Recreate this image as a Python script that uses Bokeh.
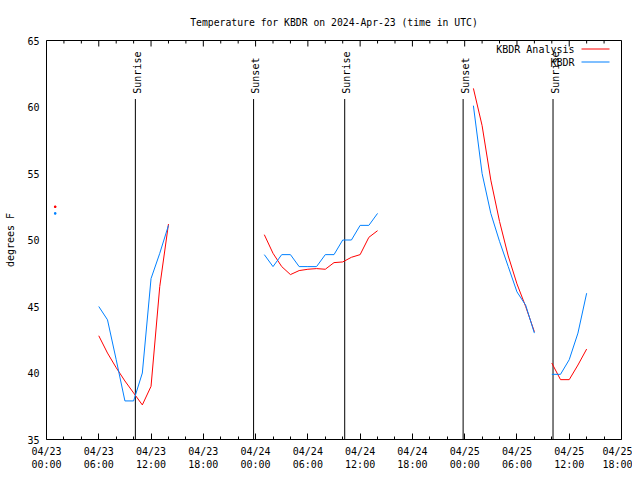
import math
import numpy as np
from bokeh.plotting import figure
from bokeh.models import Range1d, FixedTicker, Label, BoxAnnotation, ColumnDataSource
from bokeh.core.properties import value
from bokeh.embed import file_html
from bokeh.resources import INLINE

nan = float("nan")

# hours since 2024-04-23 00:00 UTC (NaN entries mark gaps in the record)
hours = [6, 7, 8, 9, 10, 11, 12, 13, 14, 15,
         25, 26, 27, 28, 29, 30, 31, 32, 33, 34, 35, 36, 37, 38, 39,
         49, 50, 51, 52, 53, 54, 55, 56, 57,
         58, 59, 60, 61, 62]
analysis_temps = [42.8, 41.5, 40.4, 39.4, 38.5, 37.6, 39.0, 46.5, 51.2, nan,
                  50.4, 49.0, 48.0, 47.4, 47.7, 47.8, 47.85, 47.8, 48.3, 48.35, 48.7, 48.9, 50.2, 50.7, nan,
                  61.4, 58.6, 54.5, 51.4, 48.8, 46.7, 45.0, 43.1, nan,
                  40.75, 39.5, 39.5, 40.6, 41.8]
obs_temps = [45.0, 44.0, 41.0, 37.9, 37.9, 40.0, 47.1, 49.0, 51.1, nan,
             48.9, 48.0, 48.9, 48.9, 48.0, 48.0, 48.0, 48.9, 48.9, 50.0, 50.0, 51.1, 51.1, 52.0, nan,
             60.1, 55.0, 52.0, 49.9, 48.0, 46.1, 45.1, 43.0, nan,
             39.9, 39.9, 41.0, 43.0, 46.0]

# isolated single readings
early_hours = [1]
early_analysis = [52.5]
early_obs = [52.0]

sun_hours = [10.2, 23.77, 34.23, 47.82, 58.14]
sun_labels = ["Sunrise", "Sunset", "Sunrise", "Sunset", "Sunrise"]

major_ticks = [0, 6, 12, 18, 24, 30, 36, 42, 48, 54, 60, 66]
tick_labels = ["04/23\n00:00", "04/23\n06:00", "04/23\n12:00", "04/23\n18:00",
               "04/24\n00:00", "04/24\n06:00", "04/24\n12:00", "04/24\n18:00",
               "04/25\n00:00", "04/25\n06:00", "04/25\n12:00", "04/25\n18:00"]
minor_ticks = [2, 4, 8, 10, 14, 16, 20, 22, 26, 28, 32, 34,
               38, 40, 44, 46, 50, 52, 56, 58, 62, 64]
y_ticks = [35, 40, 45, 50, 55, 60, 65]

RED = "#ff0000"
BLUE = "#0080ff"
FONT = "DejaVu Sans Mono"
Y_MIN, Y_MAX = 35, 65

p = figure(width=632, height=472, output_backend="svg", toolbar_location=None,
           x_range=Range1d(0, 66), y_range=Range1d(Y_MIN, Y_MAX),
           title="Temperature for KBDR on 2024-Apr-23 (time in UTC)")
p.min_border_left = 46
p.min_border_right = 11
p.min_border_top = 40
p.min_border_bottom = 32
p.grid.visible = False
p.outline_line_color = "black"
p.outline_line_width = 1
p.outline_line_alpha = 1
p.background_fill_color = "white"
p.border_fill_color = "white"

p.title.align = "center"
p.title.text_font = FONT
p.title.text_font_size = "9.75px"
p.title.text_font_style = "normal"
p.title.text_color = "black"
p.title.standoff = 25

xa = p.xaxis[0]
xa.ticker = FixedTicker(ticks=major_ticks, minor_ticks=minor_ticks)
xa.major_label_overrides = {t: lab for t, lab in zip(major_ticks, tick_labels)}
xa.major_label_text_font = FONT
xa.major_label_text_font_size = "10px"
xa.major_label_text_color = "black"
xa.major_label_standoff = 6
xa.major_tick_in = 6
xa.major_tick_out = 0
xa.minor_tick_in = 3
xa.minor_tick_out = 0
xa.major_tick_line_color = "black"
xa.minor_tick_line_color = "black"
xa.axis_line_color = None

ya = p.yaxis[0]
ya.ticker = FixedTicker(ticks=y_ticks, minor_ticks=[])
ya.major_tick_in = 0
ya.major_tick_out = 0
ya.minor_tick_in = 0
ya.minor_tick_out = 0
ya.axis_line_color = None
ya.major_label_text_font = FONT
ya.major_label_text_font_size = "10px"
ya.major_label_text_color = "black"
ya.major_label_standoff = 7
ya.axis_label = "degrees F"
ya.axis_label_text_font = FONT
ya.axis_label_text_font_size = "10px"
ya.axis_label_text_font_style = "normal"
ya.axis_label_text_color = "black"
ya.axis_label_standoff = 8

# mirrored tick marks along the top border (clipped to the frame, so only the inner half shows)
p.scatter(major_ticks, [Y_MAX] * len(major_ticks), marker="dash", angle=math.pi / 2,
          size=12, line_color="black", line_width=1)
p.scatter(minor_ticks, [Y_MAX] * len(minor_ticks), marker="dash", angle=math.pi / 2,
          size=6, line_color="black", line_width=1)

src = ColumnDataSource(dict(h=np.array(hours, dtype=float),
                            a=np.array(analysis_temps, dtype=float),
                            o=np.array(obs_temps, dtype=float)))

# sunrise / sunset markers
p.segment(x0=sun_hours, y0=[Y_MIN] * len(sun_hours), x1=sun_hours, y1=[60.6] * len(sun_hours),
          line_color="black", line_width=1)
p.text(x=sun_hours, y=[61.0] * len(sun_hours), text=sun_labels, angle=math.pi / 2,
       text_align="left", text_baseline="middle", x_offset=2,
       text_font=value(FONT), text_font_size="10px", text_color="black")

p.line("h", "a", source=src, line_color=RED, line_width=1)
p.line("h", "o", source=src, line_color=BLUE, line_width=1)
p.scatter(early_hours, early_analysis, marker="square", size=1.5, color=RED)
p.scatter(early_hours, early_obs, marker="square", size=1.5, color=BLUE)

# legend (label then line sample, as in the reference)
for i, (name, col) in enumerate([("KBDR Analysis", RED), ("KBDR", BLUE)]):
    yy = 390 - 13 * i
    p.add_layout(Label(x=528, y=yy, x_units="screen", y_units="screen", text=name,
                       text_align="right", text_baseline="middle",
                       text_font=FONT, text_font_size="10px", text_color="black"))
    p.add_layout(BoxAnnotation(left=535, right=563, bottom=yy, top=yy + 1,
                               left_units="screen", right_units="screen",
                               bottom_units="screen", top_units="screen",
                               fill_color=col, fill_alpha=1, line_color=None,
                               level="overlay"))

open("out.html", "w").write(file_html(p, INLINE))
